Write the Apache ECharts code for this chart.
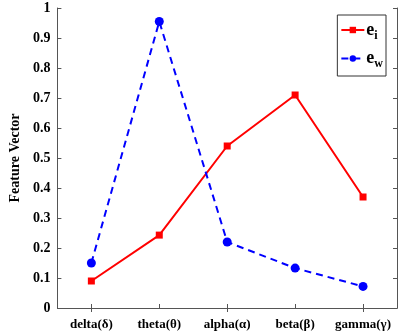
<!DOCTYPE html>
<html>
<head>
<meta charset="utf-8">
<script src="https://cdn.jsdelivr.net/npm/echarts@6/dist/echarts.min.js"></script>
<style>
html, body { margin: 0; padding: 0; background: #fff; }
#chart { width: 403px; height: 333px; }
</style>
</head>
<body>
<div id="chart"></div>
<script>
var bands = ['delta(δ)', 'theta(θ)', 'alpha(α)', 'beta(β)', 'gamma(γ)'];
var eI = [0.09, 0.243, 0.54, 0.71, 0.37];
var eW = [0.15, 0.955, 0.22, 0.133, 0.072];
var yTicks = [0, 0.1, 0.2, 0.3, 0.4, 0.5, 0.6, 0.7, 0.8, 0.9, 1];

var font = 'Liberation Serif';
var labelStyle = { fontFamily: font, fontWeight: 'bold', fontSize: 14, color: '#000' };
var boxLine = { show: true, lineStyle: { color: '#555', width: 1 } };
var inTick = { show: true, inside: true, length: 4, lineStyle: { color: '#555' } };

var chart = echarts.init(document.getElementById('chart'));
chart.setOption({
	animation: false,
	grid: { left: 43, right: 6, top: 8, bottom: 25 },
	legend: {
		orient: 'vertical',
		right: 17, top: 15,
		padding: [6, 3, 6, 3],
		itemGap: 8,
		itemWidth: 23, itemHeight: 8,
		borderColor: '#333', borderWidth: 1,
		data: ['ei', 'ew'],
		formatter: function(name) {
			return '{b|e}{s|' + name.charAt(1) + '}';
		},
		textStyle: {
			padding: [0, 0, 0, -3],
			rich: {
				b: { fontFamily: font, fontWeight: 'bold', fontSize: 18, color: '#000' },
				s: { fontFamily: font, fontWeight: 'bold', fontSize: 12, color: '#000', padding: [11, 0, 0, 0] }
			}
		}
	},
	xAxis: [{
		type: 'category',
		data: bands,
		boundaryGap: true,
		axisLine: boxLine,
		axisTick: { show: true, inside: true, length: 4, alignWithLabel: true, lineStyle: { color: '#555' } },
		axisLabel: Object.assign({ interval: 0, margin: 10 }, labelStyle, { fontSize: 13 })
	}, {
		type: 'category',
		data: bands,
		position: 'top',
		boundaryGap: true,
		axisLine: boxLine,
		axisTick: { show: true, inside: true, length: 4, alignWithLabel: true, lineStyle: { color: '#555' } },
		axisLabel: { show: false }
	}],
	yAxis: [{
		type: 'value',
		min: 0, max: 1, interval: 0.1,
		name: 'Feature Vector',
		nameLocation: 'middle',
		nameGap: 31,
		nameTextStyle: { fontFamily: font, fontWeight: 'bold', fontSize: 14, color: '#000' },
		axisLine: boxLine,
		axisTick: inTick,
		splitLine: { show: false },
		axisLabel: Object.assign({ margin: 7, formatter: function(v) {
			var t = yTicks.find(function(x) { return Math.abs(x - v) < 1e-9; });
			return t === undefined ? '' : String(t);
		} }, labelStyle)
	}, {
		type: 'value',
		position: 'right',
		min: 0, max: 1, interval: 0.1,
		axisLine: boxLine,
		axisTick: inTick,
		splitLine: { show: false },
		axisLabel: { show: false }
	}],
	series: [{
		name: 'ei',
		type: 'line',
		data: eI,
		symbol: 'rect',
		symbolSize: 7,
		itemStyle: { color: '#ff0000' },
		lineStyle: { color: '#ff0000', width: 2 }
	}, {
		name: 'ew',
		type: 'line',
		data: eW,
		symbol: 'circle',
		symbolSize: 9,
		itemStyle: { color: '#0000ff' },
		lineStyle: { color: '#0000ff', width: 2, type: [7, 5] }
	}]
});
</script>
</body>
</html>
